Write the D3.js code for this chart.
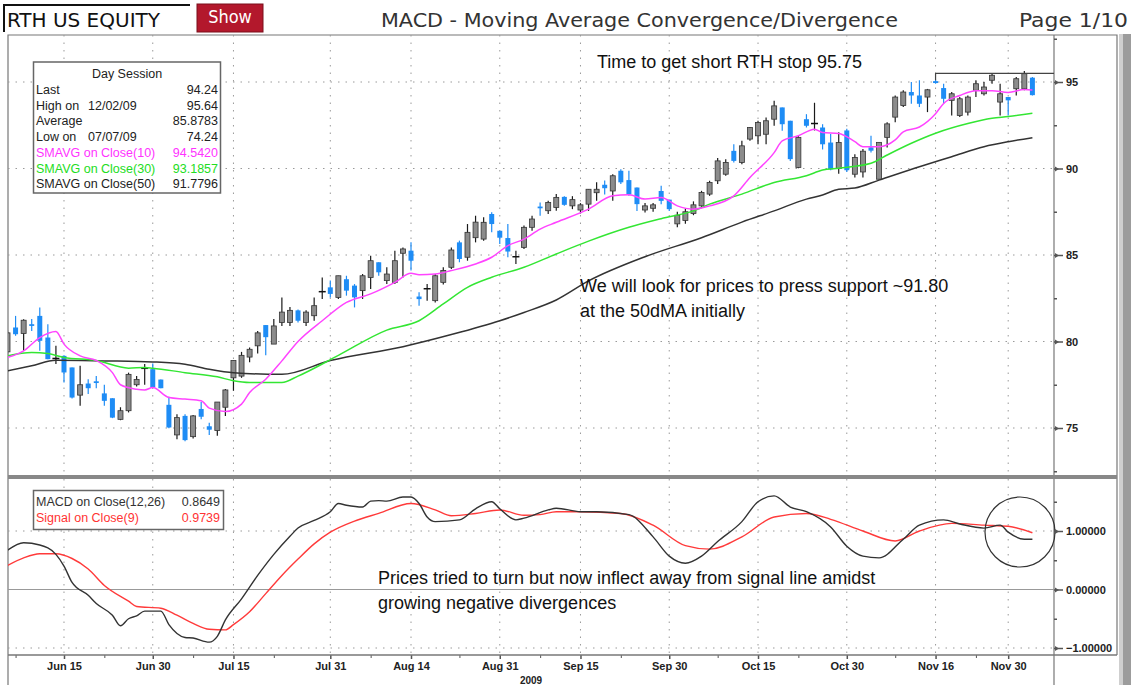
<!DOCTYPE html>
<html>
<head>
<meta charset="utf-8">
<script src="https://cdn.jsdelivr.net/npm/d3@7"></script>
<style>
  body { margin: 0; background: #fff; }
  svg { display: block; font-family: "Liberation Sans", Arial, sans-serif; }
</style>
</head>
<body>
<svg id="chart" width="1134" height="685"></svg>
<script>
// trading days shown, Jun 4 .. Dec 3 2009
var days = ["06/04","06/05","06/08","06/09","06/10","06/11","06/12","06/15","06/16","06/17","06/18","06/19","06/22","06/23","06/24","06/25","06/26","06/29","06/30",
  "07/01","07/02","07/06","07/07","07/08","07/09","07/10","07/13","07/14","07/15","07/16","07/17","07/20","07/21","07/22","07/23","07/24","07/27","07/28","07/29","07/30","07/31",
  "08/03","08/04","08/05","08/06","08/07","08/10","08/11","08/12","08/13","08/14","08/17","08/18","08/19","08/20","08/21","08/24","08/25","08/26","08/27","08/28","08/31",
  "09/01","09/02","09/03","09/04","09/08","09/09","09/10","09/11","09/14","09/15","09/16","09/17","09/18","09/21","09/22","09/23","09/24","09/25","09/28","09/29","09/30",
  "10/01","10/02","10/05","10/06","10/07","10/08","10/09","10/12","10/13","10/14","10/15","10/16","10/19","10/20","10/21","10/22","10/23","10/26","10/27","10/28","10/29","10/30",
  "11/02","11/03","11/04","11/05","11/06","11/09","11/10","11/11","11/12","11/13","11/16","11/17","11/18","11/19","11/20","11/23","11/24","11/25","11/27","11/30",
  "12/01","12/02","12/03"];

var open = [79.4,80.81,80.46,81.0,81.48,80.23,79.0,79.17,78.5,76.9, 77.57,77.7,77.0,76.72,75.5,76.0,77.5,78.4,78.4,77.8,
  76.34,74.6,75.7,74.5,76.1,75.1,74.85,76.2,77.9,78.0, 79.1,79.75,80.95,79.85,81.1,81.1,81.8,81.1,81.49,82.84,
  83.13,82.55,83.6,83.23,82.94,83.7,84.58,83.52,83.42,85.1, 85.25,82.6,83.0,82.36,83.42,84.29,85.73,84.87,86.0,85.92,
  87.37,86.4,85.98,84.87,85.44,86.6,87.8,87.56,87.75,88.36, 87.84,87.6,87.94,88.6,89.06,88.7,89.87,89.33,88.9,87.6,
  87.7,88.7,88.2,86.8,87.0,87.4,87.84,88.52,89.29,89.67, 91.02,90.35,91.7,91.89,91.98,92.85,93.53,92.76,90.06,92.85,
  92.55,92.37,91.5,90.0,92.2,89.67,89.8,91.22,89.38,91.8, 92.97,93.64,94.42,94.22,94.13,95.05,94.65,93.94,93.06,93.26,
  94.52,94.32,95.1,93.84,94.13,94.61,94.61,95.25];
var high = [80.65,81.48,81.29,81.3,81.97,81.0,79.75,79.2,78.5,78.6, 77.82,78.0,77.5,76.72,76.2,78.2,78.0,78.7,78.73,77.8,
  76.8,75.8,75.8,75.75,76.5,75.3,76.5,77.25,78.9,79.4, 79.65,80.6,80.95,81.3,82.55,82.0,81.85,81.8,82.55,83.7,
  83.52,83.8,83.8,83.32,83.9,84.96,84.58,84.29,85.25,85.44, 85.73,82.84,83.32,83.9,84.29,85.44,85.83,86.79,87.27,87.18,
  87.47,86.4,86.79,85.25,86.7,87.27,88.04,88.14,88.53,88.4, 88.4,88.0,88.8,89.2,89.3,89.67,89.96,89.87,88.9,88.0,
  88.0,89.0,88.2,87.5,87.7,88.1,88.71,89.29,90.6,90.54, 91.4,91.6,92.4,92.76,92.95,93.91,93.53,92.76,91.89,93.14,
  93.8,92.56,92.0,92.1,92.3,90.83,91.12,91.9,91.51,92.67, 94.22,94.52,95.0,95.1,94.6,95.13,94.9,94.42,94.13,94.22,
  95.1,95.0,95.48,94.9,94.13,95.29,95.64,95.29];
var low = [79.13,80.33,79.46,80.6,79.46,78.98,78.7,77.63,76.7,76.28, 76.96,77.3,76.28,75.57,75.45,75.9,77.4,77.5,77.3,77.3,
  74.99,74.35,74.24,74.4,75.5,74.6,74.55,75.7,77.15,77.9, 78.8,79.3,79.2,79.85,80.9,80.9,81.1,80.9,81.2,82.46,
  82.55,82.46,82.65,81.97,82.46,83.03,83.8,83.32,83.32,83.7, 84.1,82.07,82.36,82.26,83.29,84.19,84.58,84.67,85.73,85.83,
  86.31,85.64,84.87,84.48,85.35,86.4,87.27,87.37,87.56,87.85, 87.65,87.4,87.55,88.13,88.5,88.13,89.1,88.42,87.55,87.45,
  87.5,87.94,87.55,86.6,86.8,87.3,87.75,88.42,89.1,89.58, 90.35,90.25,91.6,91.4,91.4,92.47,92.18,90.44,90.02,92.37,
  92.2,91.1,89.9,89.7,89.8,89.48,89.48,90.93,89.38,91.22, 92.67,93.55,93.74,93.55,93.26,94.9,93.74,93.06,92.97,93.06,
  94.13,94.22,94.9,93.06,93.06,94.22,94.52,94.22];
var close = [80.5,80.42,81.23,80.9,80.04,78.98,79.02,78.21,76.76,77.5, 77.3,77.6,76.57,75.6,76.0,78.1,77.8,78.45,77.34,77.3,
  75.03,75.6,74.3,75.7,75.65,74.9,76.5,77.2,78.9,79.2, 79.55,80.5,80.25,80.9,81.7,81.8,81.2,81.7,82.07,82.88,
  82.75,83.8,82.94,82.55,83.8,84.67,84.0,83.9,84.67,85.35, 84.67,82.45,83.05,83.8,84.1,85.29,84.77,86.31,86.9,86.89,
  86.79,86.0,85.2,84.9,86.6,87.08,87.7,88.04,88.33,87.9, 88.2,87.9,88.8,88.8,88.86,89.58,89.2,88.5,87.94,87.84,
  87.9,88.13,87.65,87.3,87.5,87.9,88.61,89.19,90.44,90.35, 90.44,91.31,92.37,92.66,92.76,93.62,92.56,90.54,91.8,92.47,
  92.6,91.4,89.95,91.5,89.9,90.64,91.0,91.03,91.51,92.58, 94.13,94.42,94.22,93.74,94.55,94.94,94.03,94.32,94.03,94.13,
  94.9,94.71,95.39,94.32,93.94,95.19,95.48,94.24];

// moving averages: [trading-day index, value]
var sma10 = [[0,79.08],[2,79.46],[4,80.23],[6,80.58],[7,79.85],[9,79.17],[11,78.9],[13,78.2],[14,77.5],[16,77.24],[17,77.2],[18,77.34],
  [20,76.76],[22,76.67],[24,76.57],[25,76.15],[27,75.95],[29,76.38],[30,77.05],[32,77.82],[34,78.88],[36,80.0],[39,81.2],[42,82.26],
  [45,82.75],[48,83.42],[50,83.94],[51,83.86],[53,83.9],[55,84.1],[58,84.48],[60,84.87],[62,85.54],[64,85.92],[66,86.5],[68,86.89],
  [72,87.65],[75,88.42],[77,88.48],[79,88.23],[81,88.32],[83,87.84],[85,87.65],[87,87.84],[90,88.42],[92,89.48],[95,90.92],[96,91.6],
  [98,91.89],[100,92.27],[101,92.08],[103,92.02],[105,91.55],[106,91.26],[108,91.26],[110,91.65],[111,92.12],[113,92.4],[115,93.17],
  [116,93.76],[118,94.22],[120,94.5],[122,94.5],[124,94.4],[126,94.57],[127,94.54]];
var sma30 = [[0,79.17],[3,79.36],[5,79.3],[7,79.08],[11,78.9],[15,78.46],[17,78.5],[18,78.46],[22,78.2],[26,77.96],[28,77.73],[30,77.63],
  [34,77.63],[36,78.0],[41,79.2],[47,80.66],[51,81.2],[54,82.17],[57,83.13],[60,83.71],[64,84.29],[68,85.06],[72,85.8],[77,86.6],
  [81,87.1],[85,87.55],[87,87.94],[91,88.52],[95,89.19],[99,89.58],[101,89.91],[103,90.02],[107,90.3],[109,90.78],[112,91.46],
  [115,92.04],[119,92.6],[122,92.9],[124,93.0],[127,93.19]];
var sma50 = [[0,78.3],[3,78.6],[6,78.92],[12,78.88],[18,78.82],[22,78.69],[25,78.4],[28,78.2],[34,78.1],[40,78.9],[49,79.7],[55,80.4],
  [61,81.2],[64,81.68],[68,82.4],[72,83.5],[79,84.9],[86,86.0],[91,86.9],[95,87.55],[99,88.23],[101,88.47],[103,88.8],[105,88.87],
  [108,89.33],[113,90.1],[117,90.68],[121,91.26],[124,91.55],[127,91.78]];

// MACD(12,26) and signal(9): [trading-day index, value]
var macdLine = [[0,0.67],[2,0.8],[4,0.76],[6,0.6],[7,0.4],[8,0.12],[10,-0.1],[11,-0.24],[13,-0.44],[14,-0.62],[15,-0.5],[16,-0.45],
  [17,-0.37],[19,-0.37],[20,-0.6],[22,-0.82],[23,-0.83],[25,-0.9],[26,-0.8],[27,-0.52],[29,-0.16],[31,0.24],[33,0.6],[35,0.91],
  [36,1.05],[38,1.18],[40,1.33],[41,1.47],[42,1.44],[44,1.41],[45,1.51],[46,1.52],[47,1.51],[49,1.58],[50,1.58],[51,1.47],[52,1.24],
  [53,1.16],[56,1.19],[58,1.38],[60,1.5],[61,1.38],[63,1.19],[64,1.22],[67,1.36],[68,1.39],[71,1.33],[73,1.33],[77,1.28],[80,0.9],
  [82,0.57],[84,0.45],[86,0.57],[88,0.82],[91,1.16],[93,1.5],[95,1.6],[97,1.41],[99,1.33],[102,1.07],[104,0.74],[106,0.57],
  [108,0.54],[111,0.86],[113,1.1],[116,1.19],[118,1.12],[121,1.05],[123,1.1],[124,0.98],[126,0.86],[127,0.86]];
var signalLine = [[0,0.41],[2,0.54],[4,0.61],[6,0.61],[8,0.53],[10,0.35],[12,0.07],[15,-0.2],[16,-0.29],[19,-0.32],[21,-0.44],
  [23,-0.58],[25,-0.68],[27,-0.69],[28,-0.6],[30,-0.38],[32,-0.07],[34,0.24],[36,0.52],[38,0.78],[40,0.98],[43,1.17],[46,1.3],
  [50,1.47],[53,1.36],[55,1.26],[58,1.3],[61,1.36],[64,1.27],[66,1.28],[68,1.33],[71,1.33],[76,1.3],[80,1.1],[84,0.75],[87,0.69],
  [91,0.9],[95,1.24],[99,1.3],[102,1.2],[106,1.0],[110,0.83],[113,1.0],[117,1.13],[121,1.1],[124,1.08],[127,0.97]];

var xTickDays = ["06/15","06/30","07/15","07/31","08/14","08/31","09/15","09/30","10/15","10/30","11/16","11/30"];
var xTickLabels = ["Jun 15","Jun 30","Jul 15","Jul 31","Aug 14","Aug 31","Sep 15","Sep 30","Oct 15","Oct 30","Nov 16","Nov 30"];
var xMinorDays = ["06/05","06/22","07/08","07/22","08/07","08/24","09/08","09/22","10/08","10/22","11/09","11/23"];
var priceTicks = [75, 80, 85, 90, 95];
var priceMinor = [72.5, 77.5, 82.5, 87.5, 92.5, 97.5];
var macdTicks = [-1, 0, 1];
var macdMinor = [-0.5, 0.5, 1.5];

var legendRows = [
  ["Last", "", "94.24", "#222"],
  ["High on", "12/02/09", "95.64", "#222"],
  ["Average", "", "85.8783", "#222"],
  ["Low on", "07/07/09", "74.24", "#222"],
  ["SMAVG on Close(10)", "", "94.5420", "#ff33ff"],
  ["SMAVG on Close(30)", "", "93.1857", "#22dd22"],
  ["SMAVG on Close(50)", "", "91.7796", "#222"]
];
var macdLegend = [["MACD on Close(12,26)", "0.8649", "#333"], ["Signal on Close(9)", "0.9739", "#ff3333"]];
var stopLevel = 95.5, stopFrom = "11/16";

var svg = d3.select("#chart");
var plotL = 8, plotR = 1054, frameR = 1117;
var pTop = 35, pBot = 475, mTop = 479, mBot = 655;
var narrow = "'DejaVu Sans Condensed','Liberation Sans Narrow',sans-serif";

var x = d3.scalePoint().domain(days).range([7.5, 1032.4]);
var yP = d3.scaleLinear().domain([75, 95]).range([428, 82]);
var yM = d3.scaleLinear().domain([-1, 1]).range([648, 531]);

svg.append("rect").attr("width", 1134).attr("height", 685).attr("fill", "#fff");

var defs = svg.append("defs");
defs.append("clipPath").attr("id", "clipP").append("rect")
  .attr("x", plotL).attr("y", pTop).attr("width", plotR - plotL).attr("height", pBot - pTop);
defs.append("clipPath").attr("id", "clipM").append("rect")
  .attr("x", plotL).attr("y", mTop).attr("width", plotR - plotL).attr("height", mBot - mTop);

// ---- header
svg.append("path").attr("d", "M4,32 V5 H190").attr("fill", "none").attr("stroke", "#111").attr("stroke-width", 2);
svg.append("text").attr("x", 7).attr("y", 27).attr("font-size", 20).attr("font-family", narrow)
  .attr("textLength", 153).attr("lengthAdjust", "spacingAndGlyphs").attr("fill", "#111").text("RTH US EQUITY");
svg.append("rect").attr("x", 197).attr("y", 4).attr("width", 66).attr("height", 28).attr("fill", "#b3182c")
  .attr("stroke", "#7a0e1b").attr("stroke-width", 1);
svg.append("text").attr("x", 230).attr("y", 23).attr("text-anchor", "middle").attr("font-size", 18)
  .attr("font-family", narrow).attr("fill", "#fff").text("Show");
svg.append("text").attr("x", 381).attr("y", 27).attr("font-size", 20).attr("font-family", narrow)
  .attr("textLength", 517).attr("lengthAdjust", "spacingAndGlyphs").attr("fill", "#333")
  .text("MACD - Moving Average Convergence/Divergence");
svg.append("text").attr("x", 1019).attr("y", 27).attr("font-size", 20).attr("font-family", narrow)
  .attr("textLength", 109).attr("lengthAdjust", "spacingAndGlyphs").attr("fill", "#333").text("Page 1/10");

// ---- frame
svg.append("rect").attr("x", 1119).attr("y", 34).attr("width", 12).attr("height", 651).attr("fill", "#9c9c9c");
svg.append("rect").attr("x", 1119).attr("y", 34).attr("width", 4).attr("height", 651).attr("fill", "#cfcfcf");
svg.append("path").attr("d", "M" + plotL + ",685 V" + pTop + " H" + frameR + " V" + mBot)
  .attr("fill", "none").attr("stroke", "#777").attr("stroke-width", 1.2);
svg.append("line").attr("x1", plotR).attr("x2", plotR).attr("y1", pTop).attr("y2", 685).attr("stroke", "#777").attr("stroke-width", 1.2);
svg.append("rect").attr("x", plotL).attr("y", pBot).attr("width", frameR - plotL).attr("height", 4).attr("fill", "#888");

// ---- grid
var grid = svg.append("g").attr("stroke", "#9a9a9a").attr("stroke-width", 1).attr("stroke-dasharray", "1.5,6");
grid.selectAll(".hp").data(priceTicks).join("line")
  .attr("x1", plotL).attr("x2", plotR).attr("y1", d => yP(d)).attr("y2", d => yP(d));
grid.selectAll(".hm").data([-1, 1]).join("line")
  .attr("x1", plotL).attr("x2", plotR).attr("y1", d => yM(d)).attr("y2", d => yM(d));
grid.selectAll(".vp").data(xTickDays).join("line")
  .attr("x1", d => x(d)).attr("x2", d => x(d)).attr("y1", pTop).attr("y2", pBot);
grid.selectAll(".vm").data(xTickDays).join("line")
  .attr("x1", d => x(d)).attr("x2", d => x(d)).attr("y1", mTop).attr("y2", mBot);
svg.append("line").attr("x1", plotL).attr("x2", plotR).attr("y1", yM(0)).attr("y2", yM(0))
  .attr("stroke", "#999").attr("stroke-width", 1);

// ---- candles
var idx = d3.range(days.length);
var blue = "#1e8cf5";
var cg = svg.append("g").attr("clip-path", "url(#clipP)");
var candle = cg.selectAll("g.c").data(idx).join("g").attr("class", "c");
candle.append("line")
  .attr("x1", i => x(days[i])).attr("x2", i => x(days[i]))
  .attr("y1", i => yP(high[i])).attr("y2", i => yP(low[i]))
  .attr("stroke", i => close[i] < open[i] - 0.08 ? blue : "#1a1a1a").attr("stroke-width", 1.2);
candle.filter(i => Math.abs(close[i] - open[i]) >= 0.08).append("rect")
  .attr("x", i => x(days[i]) - 2.5).attr("width", 5)
  .attr("y", i => yP(Math.max(open[i], close[i])))
  .attr("height", i => Math.max(1.5, Math.abs(yP(open[i]) - yP(close[i]))))
  .attr("fill", i => close[i] < open[i] ? blue : "#8c8c8c")
  .attr("stroke", i => close[i] < open[i] ? "none" : "#333").attr("stroke-width", 0.8);
candle.filter(i => Math.abs(close[i] - open[i]) < 0.08).append("line")
  .attr("x1", i => x(days[i]) - 3.5).attr("x2", i => x(days[i]) + 3.5)
  .attr("y1", i => yP(close[i])).attr("y2", i => yP(close[i]))
  .attr("stroke", "#111").attr("stroke-width", 1.5);

// ---- moving averages
var lineP = d3.line().x(d => x(days[d[0]])).y(d => yP(d[1])).curve(d3.curveMonotoneX);
[[sma50, "#333"], [sma30, "#33e633"], [sma10, "#ff44ff"]].forEach(function(s) {
  cg.append("path").attr("d", lineP(s[0])).attr("fill", "none").attr("stroke", s[1]).attr("stroke-width", 1.5);
});

// stop line
svg.append("path")
  .attr("d", "M" + x(stopFrom) + "," + yP(95.1) + " V" + yP(stopLevel) + " H" + plotR)
  .attr("fill", "none").attr("stroke", "#444").attr("stroke-width", 1.2);

// ---- MACD
var lineM = d3.line().x(d => x(days[d[0]])).y(d => yM(d[1])).curve(d3.curveMonotoneX);
var mg = svg.append("g").attr("clip-path", "url(#clipM)");
mg.append("path").attr("d", lineM(signalLine)).attr("fill", "none").attr("stroke", "#ff3a3a").attr("stroke-width", 1.4);
mg.append("path").attr("d", lineM(macdLine)).attr("fill", "none").attr("stroke", "#333").attr("stroke-width", 1.4);
svg.append("circle").attr("cx", 1020).attr("cy", 532).attr("r", 35)
  .attr("fill", "none").attr("stroke", "#333").attr("stroke-width", 1.2);

// ---- right axes
function flagAxis(scale, ticks, minor, fmt) {
  var g = svg.append("g").attr("transform", "translate(" + plotR + ",0)");
  g.call(d3.axisRight(scale).tickValues(ticks).tickSize(9).tickPadding(3).tickFormat(fmt));
  g.select(".domain").remove();
  g.selectAll(".tick line").attr("stroke", "#555").attr("stroke-width", 1.5);
  g.selectAll(".tick").append("path").attr("d", "M1,-2.5 L5,0 L1,2.5 Z").attr("fill", "#555");
  g.selectAll(".tick text").attr("font-size", 11).attr("font-weight", "bold").attr("fill", "#222")
    .attr("font-family", "'Liberation Sans',Arial,sans-serif");
  var m = svg.append("g").attr("transform", "translate(" + plotR + ",0)");
  m.call(d3.axisRight(scale).tickValues(minor).tickSize(3).tickFormat(""));
  m.select(".domain").remove();
  m.selectAll(".tick line").attr("stroke", "#555").attr("stroke-width", 1.5);
}
flagAxis(yP, priceTicks, priceMinor.filter(v => yP(v) > pTop && yP(v) < pBot), d3.format("d"));
flagAxis(yM, macdTicks, macdMinor, d3.format(".5f"));

// ---- bottom axis
var xa = svg.append("g").attr("transform", "translate(0," + mBot + ")");
xa.call(d3.axisBottom(x).tickValues(xTickDays).tickSize(4).tickPadding(3)
  .tickFormat((d, i) => xTickLabels[i]));
xa.select(".domain").remove();
xa.selectAll(".tick line").attr("stroke", "#555").attr("stroke-width", 1.5);
xa.selectAll(".tick text").attr("font-size", 11).attr("font-weight", "bold").attr("fill", "#222")
  .attr("font-family", "'Liberation Sans',Arial,sans-serif");
var xm = svg.append("g").attr("transform", "translate(0," + mBot + ")");
xm.call(d3.axisBottom(x).tickValues(xMinorDays).tickSize(3).tickFormat(""));
xm.select(".domain").remove();
xm.selectAll(".tick line").attr("stroke", "#555");
svg.append("line").attr("x1", plotL).attr("x2", frameR).attr("y1", mBot).attr("y2", mBot)
  .attr("stroke", "#777").attr("stroke-width", 1.5);
svg.append("text").attr("x", 531).attr("y", 684).attr("text-anchor", "middle").attr("font-size", 10)
  .attr("font-weight", "bold").attr("fill", "#222").text("2009");

// ---- legends
var lg = svg.append("g").attr("font-size", 12.5);
lg.append("rect").attr("x", 33.5).attr("y", 62).attr("width", 187).attr("height", 131)
  .attr("fill", "#fff").attr("stroke", "#666").attr("stroke-width", 1.5);
lg.append("text").attr("x", 127).attr("y", 78).attr("text-anchor", "middle").attr("fill", "#222").text("Day Session");
legendRows.forEach(function(r, i) {
  var yy = 94 + i * 15.7;
  lg.append("text").attr("x", 36).attr("y", yy).attr("fill", r[3]).text(r[0]);
  if (r[1]) lg.append("text").attr("x", 88).attr("y", yy).attr("fill", r[3]).text(r[1]);
  lg.append("text").attr("x", 218).attr("y", yy).attr("text-anchor", "end").attr("fill", r[3]).text(r[2]);
});

var ml = svg.append("g").attr("font-size", 12.5);
ml.append("rect").attr("x", 33.5).attr("y", 490.5).attr("width", 190).attr("height", 39)
  .attr("fill", "#fff").attr("stroke", "#666").attr("stroke-width", 1.5);
macdLegend.forEach(function(r, i) {
  var yy = 506 + i * 16;
  ml.append("text").attr("x", 36).attr("y", yy).attr("fill", r[2]).text(r[0]);
  ml.append("text").attr("x", 220).attr("y", yy).attr("text-anchor", "end").attr("fill", r[2]).text(r[1]);
});

// ---- annotations
var notes = [
  [597, 68, "Time to get short RTH stop 95.75"],
  [580, 292, "We will look for prices to press support ~91.80"],
  [580, 317, "at the 50dMA initially"],
  [378, 584, "Prices tried to turn but now inflect away from signal line amidst"],
  [378, 609, "growing negative divergences"]
];
svg.append("g").selectAll("text").data(notes).join("text")
  .attr("x", d => d[0]).attr("y", d => d[1]).attr("font-size", 18).attr("fill", "#111")
  .text(d => d[2]);
</script>
</body>
</html>
